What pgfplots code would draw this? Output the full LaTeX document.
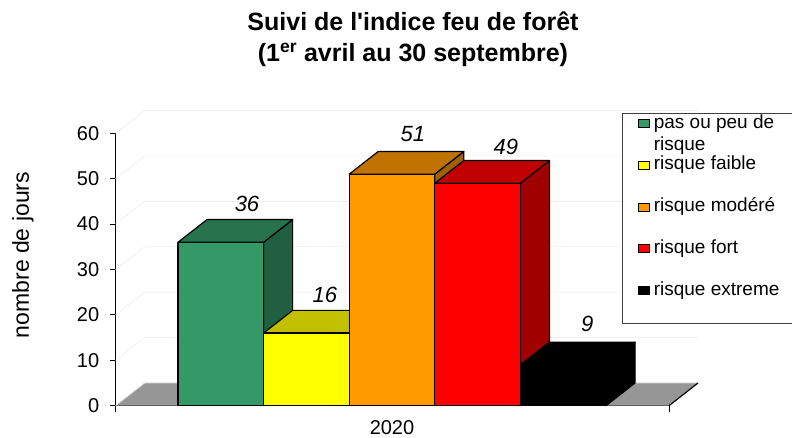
\documentclass[border=0pt]{standalone}
\usepackage{fontspec}
\setmainfont{Liberation Sans}[Ligatures=TeXOff]
\usepackage{pgfplots}
\pgfplotsset{compat=1.18}
\definecolor{gF}{HTML}{339966}\definecolor{gT}{HTML}{26734D}\definecolor{gS}{HTML}{206040}
\definecolor{yF}{HTML}{FFFF00}\definecolor{yT}{HTML}{C0C000}\definecolor{yS}{HTML}{A0A000}
\definecolor{oF}{HTML}{FF9900}\definecolor{oT}{HTML}{C07300}\definecolor{oS}{HTML}{A06000}
\definecolor{rF}{HTML}{FF0000}\definecolor{rT}{HTML}{C00000}\definecolor{rS}{HTML}{A00000}
\definecolor{floorc}{HTML}{969696}
\definecolor{gridc}{HTML}{F0F0F0}
\begin{document}
\begin{tikzpicture}
\useasboundingbox (0,0) rectangle (792pt,438pt);
\begin{axis}[
  at={(178pt,32.3pt)}, anchor=origin,
  x=85.6pt, y=4.54pt,
  xmin=-0.728, xmax=5.736, ymin=0, ymax=60,
  clip=false,
  axis x line*=bottom, axis y line*=left,
  axis line style={-, line width=1pt, black},
  xtick={-0.728,5.736}, xticklabels={,},
  ytick={0,10,...,60},
  tick align=outside, major tick length=6pt,
  tick style={black, line width=1pt},
  /pgf/number format/assume math mode=true,
  yticklabel style={font=\fontsize{20}{24}\selectfont, xshift=-7pt},
  ylabel={nombre de jours},
  ylabel style={at={(rel axis cs:-0.1675,0.553)}, anchor=center, font=\fontsize{23}{26}\selectfont},
  xlabel={2020},
  xlabel style={at={(axis cs:2.5,0)}, anchor=base, yshift=-29pt, font=\fontsize{20}{24}\selectfont},
  title={Suivi de l'indice feu de forêt\\(1\textsuperscript{er} avril au 30 septembre)},
  title style={at={(axis cs:2.745,85.5)}, anchor=north, inner sep=0pt, align=center, font=\bfseries\fontsize{25}{31}\selectfont},
  legend cell align=left,
  legend style={at={(0.9145,1.0756)}, anchor=north west, draw=black!75, line width=0.8pt,
    inner xsep=16pt, inner ysep=1pt, row sep=0pt, column sep=3.5pt,
    font=\fontsize{19}{22}\selectfont, nodes={inner sep=0pt}, cells={anchor=base west}},
  legend image code/.code={\draw[#1, draw=black, line width=1.2pt] (0pt,0.5pt) rectangle (11pt,8.5pt);},
]
% back wall grid lines
\addplot[gridc, line width=0.8pt, forget plot] coordinates {(-0.728,10) (-0.389,15) (6.075,15)};
\addplot[gridc, line width=0.8pt, forget plot] coordinates {(-0.728,20) (-0.389,25) (6.075,25)};
\addplot[gridc, line width=0.8pt, forget plot] coordinates {(-0.728,30) (-0.389,35) (6.075,35)};
\addplot[gridc, line width=0.8pt, forget plot] coordinates {(-0.728,40) (-0.389,45) (6.075,45)};
\addplot[gridc, line width=0.8pt, forget plot] coordinates {(-0.728,50) (-0.389,55) (6.075,55)};
\addplot[gridc, line width=0.8pt, forget plot] coordinates {(-0.728,60) (-0.389,65) (6.075,65)};
% floor
\addplot[fill=floorc, draw=none, forget plot] coordinates {(-0.728,0) (5.736,0) (6.075,5) (-0.389,5)} --cycle;
\addplot[white!85!black, line width=0.8pt, forget plot] coordinates {(-0.728,0) (-0.389,5) (6.075,5)};
\addplot[black, line width=1.2pt, forget plot] coordinates {(5.736,0) (6.075,5)};
% green 36
\addplot[fill=gS, draw=black, line width=1.2pt, line join=round, forget plot] coordinates {(1,0) (1.339,5) (1.339,41) (1,36)} --cycle;
\addplot[fill=gT, draw=black, line width=1.2pt, line join=round, forget plot] coordinates {(0,36) (1,36) (1.339,41) (0.339,41)} --cycle;
\addplot[fill=gF, draw=black, line width=1.2pt, line join=round, forget plot] coordinates {(0,0) (1,0) (1,36) (0,36)} --cycle;
% yellow 16
\addplot[fill=yS, draw=black, line width=1.2pt, line join=round, forget plot] coordinates {(2,0) (2.339,5) (2.339,21) (2,16)} --cycle;
\addplot[fill=yT, draw=black, line width=1.2pt, line join=round, forget plot] coordinates {(1,16) (2,16) (2.339,21) (1.339,21)} --cycle;
\addplot[fill=yF, draw=black, line width=1.2pt, line join=round, forget plot] coordinates {(1,0) (2,0) (2,16) (1,16)} --cycle;
% orange 51
\addplot[fill=oS, draw=black, line width=1.2pt, line join=round, forget plot] coordinates {(3,0) (3.339,5) (3.339,56) (3,51)} --cycle;
\addplot[fill=oT, draw=black, line width=1.2pt, line join=round, forget plot] coordinates {(2,51) (3,51) (3.339,56) (2.339,56)} --cycle;
\addplot[fill=oF, draw=black, line width=1.2pt, line join=round, forget plot] coordinates {(2,0) (3,0) (3,51) (2,51)} --cycle;
% red 49
\addplot[fill=rS, draw=black, line width=1.2pt, line join=round, forget plot] coordinates {(4,0) (4.339,5) (4.339,54) (4,49)} --cycle;
\addplot[fill=rT, draw=black, line width=1.2pt, line join=round, forget plot] coordinates {(3,49) (4,49) (4.339,54) (3.339,54)} --cycle;
\addplot[fill=rF, draw=black, line width=1.2pt, line join=round, forget plot] coordinates {(3,0) (4,0) (4,49) (3,49)} --cycle;
% black 9
\addplot[fill=black, draw=black, line width=1.2pt, line join=round, forget plot] coordinates {(5,0) (5.339,5) (5.339,14) (5,9)} --cycle;
\addplot[fill=black, draw=black, line width=1.2pt, line join=round, forget plot] coordinates {(4,9) (5,9) (5.339,14) (4.339,14)} --cycle;
\addplot[fill=black, draw=black, line width=1.2pt, line join=round, forget plot] coordinates {(4,0) (5,0) (5,9) (4,9)} --cycle;
% data labels
\node[font=\itshape\fontsize{22}{26}\selectfont] at (axis cs:0.806,44.4) {36};
\node[font=\itshape\fontsize{22}{26}\selectfont] at (axis cs:1.717,24.4) {16};
\node[font=\itshape\fontsize{22}{26}\selectfont] at (axis cs:2.745,59.8) {51};
\node[font=\itshape\fontsize{22}{26}\selectfont] at (axis cs:3.83,57.0) {49};
\node[font=\itshape\fontsize{22}{26}\selectfont] at (axis cs:4.78,18.0) {9};
% legend
\addlegendimage{fill=gF}
\addlegendentry[text height=14pt, text depth=27.75pt]{\parbox[t]{300pt}{pas ou peu de\\risque}}
\addlegendimage{fill=yF}
\addlegendentry[text height=14pt, text depth=27.75pt]{\parbox[t]{300pt}{risque faible}}
\addlegendimage{fill=oF}
\addlegendentry[text height=14pt, text depth=27.75pt]{\parbox[t]{300pt}{risque modéré}}
\addlegendimage{fill=rF}
\addlegendentry[text height=14pt, text depth=27.75pt]{\parbox[t]{300pt}{risque fort}}
\addlegendimage{fill=black}
\addlegendentry[text height=14pt, text depth=27.75pt]{\parbox[t]{300pt}{risque extreme}}
\end{axis}
\end{tikzpicture}
\end{document}
